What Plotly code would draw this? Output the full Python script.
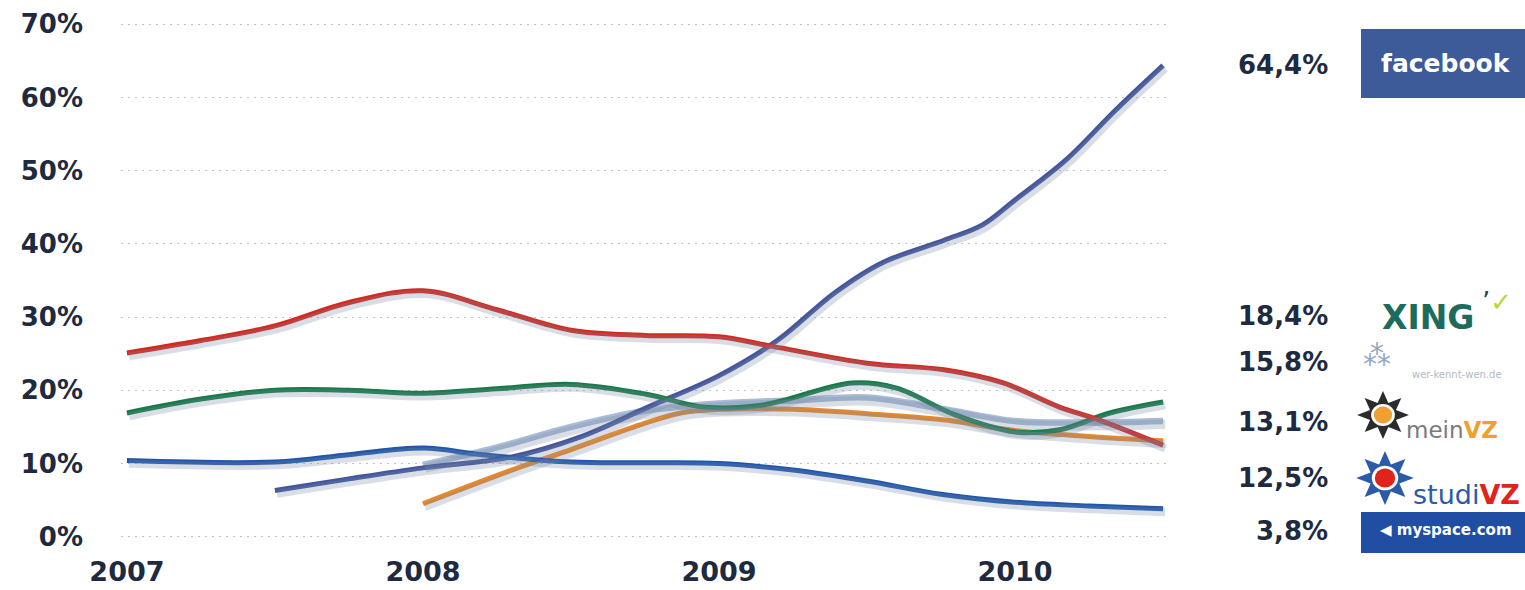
import base64
import math
import plotly.graph_objects as go

# ---------------- data ----------------
years_ticks = [2007, 2008, 2009, 2010]
tick_year_text = ["2007", "2008", "2009", "2010"]
pct_ticks = [0, 10, 20, 30, 40, 50, 60, 70]
pct_tick_text = ["0%", "10%", "20%", "30%", "40%", "50%", "60%", "70%"]

x_wkw = [2008.0, 2008.25, 2008.5, 2008.75, 2009.0, 2009.25, 2009.5, 2009.75, 2010.0, 2010.25, 2010.5]
y_wkw = [9.8, 12.2, 15.0, 17.2, 18.2, 18.6, 19.0, 17.5, 15.8, 15.6, 15.8]

x_meinvz = [2008.0, 2008.3, 2008.5, 2008.75, 2008.87, 2009.0, 2009.25, 2009.5, 2009.75, 2010.0, 2010.25, 2010.5]
y_meinvz = [4.5, 9.1, 11.9, 15.5, 16.9, 17.4, 17.4, 16.8, 16.0, 14.5, 13.7, 13.1]

x_facebook = [2007.5, 2007.75, 2008.0, 2008.3, 2008.53, 2008.76, 2009.0, 2009.2, 2009.39, 2009.55, 2009.76, 2009.89, 2010.0, 2010.17, 2010.34, 2010.5]
y_facebook = [6.3, 7.9, 9.4, 10.9, 13.6, 17.7, 22.0, 26.9, 33.3, 37.4, 40.5, 42.6, 46.0, 51.4, 58.3, 64.4]

x_myspace = [2007.0, 2007.5, 2007.75, 2008.0, 2008.2, 2008.5, 2008.75, 2009.0, 2009.25, 2009.5, 2009.75, 2010.0, 2010.25, 2010.5]
y_myspace = [10.4, 10.2, 11.2, 12.1, 11.2, 10.2, 10.1, 10.0, 9.1, 7.6, 5.8, 4.7, 4.2, 3.8]

x_xing = [2007.0, 2007.25, 2007.5, 2007.75, 2008.0, 2008.25, 2008.5, 2008.75, 2008.95, 2009.15, 2009.45, 2009.6, 2009.8, 2010.0, 2010.15, 2010.32, 2010.5]
y_xing = [16.9, 18.8, 20.0, 20.0, 19.6, 20.2, 20.8, 19.5, 17.7, 18.0, 21.0, 20.3, 16.6, 14.3, 14.6, 16.9, 18.4]

x_studivz = [2007.0, 2007.25, 2007.5, 2007.75, 2008.0, 2008.25, 2008.5, 2008.75, 2009.0, 2009.18, 2009.5, 2009.76, 2009.96, 2010.15, 2010.28, 2010.5]
y_studivz = [25.1, 26.8, 28.8, 32.0, 33.6, 31.0, 28.2, 27.5, 27.3, 26.0, 23.7, 22.8, 21.0, 17.7, 16.0, 12.5]

end_labels = ["64,4%", "18,4%", "15,8%", "13,1%", "12,5%", "3,8%"]

# ---------------- layout helpers ----------------
W, H = 1525, 590
L, R, T, B = 121, 356, 17, 46
PW, PH = W - L - R, H - T - B
X_RANGE = [2006.98, 2010.52]
Y_RANGE = [-1, 71]


def pxx(x):
    return (x - L) / PW


def pxy(y):
    return (H - B - y) / PH


series = [
    ("wer-kennt-wen", x_wkw, y_wkw, "#a9bcd4", 6.5),
    ("meinVZ", x_meinvz, y_meinvz, "#e8892b", 5),
    ("facebook", x_facebook, y_facebook, "#45569c", 5),
    ("myspace", x_myspace, y_myspace, "#2157ab", 5),
    ("XING", x_xing, y_xing, "#187a47", 5),
    ("studiVZ", x_studivz, y_studivz, "#d42a1e", 5),
]

fig = go.Figure()

# soft shadows (drawn on an offset overlay axis)
for name, xs, ys, col, w in series:
    fig.add_trace(go.Scatter(
        x=xs, y=ys, mode="lines", xaxis="x2", yaxis="y2",
        line=dict(color="rgba(120,135,165,0.28)", width=w + 3, shape="spline", smoothing=1.0),
        hoverinfo="skip", showlegend=False))

for name, xs, ys, col, w in series:
    fig.add_trace(go.Scatter(
        x=xs, y=ys, mode="lines", name=name,
        line=dict(color=col, width=w, shape="spline", smoothing=1.0),
        showlegend=False))

FONT = "DejaVu Sans"
TXT = "#1e2a3f"

fig.update_layout(
    width=W, height=H,
    margin=dict(l=L, r=R, t=T, b=B, autoexpand=False),
    paper_bgcolor="white", plot_bgcolor="white",
    showlegend=False, hovermode=False,
    xaxis=dict(range=X_RANGE, tickvals=years_ticks, ticktext=tick_year_text,
               showgrid=False, zeroline=False, showline=False, ticks="",
               tickfont=dict(family=FONT, size=27, color=TXT, weight="bold"),
               ticklabelstandoff=9),
    yaxis=dict(range=Y_RANGE, tickvals=pct_ticks, ticktext=pct_tick_text,
               showgrid=True, gridcolor="#c2c2c2", griddash="2px,5px", gridwidth=1.3,
               zeroline=False, showline=False, ticks="",
               tickfont=dict(family=FONT, size=26, color=TXT, weight="bold"),
               ticklabelstandoff=37),
    xaxis2=dict(overlaying="x", range=[X_RANGE[0] - 0.007, X_RANGE[1] - 0.007], visible=False),
    yaxis2=dict(overlaying="y", range=[Y_RANGE[0] + 0.45, Y_RANGE[1] + 0.45], visible=False),
)


def note(x, y, text, size, color=TXT, bold=False, xanchor="center"):
    fig.add_annotation(x=pxx(x), y=pxy(y), xref="paper", yref="paper", text=text,
                       showarrow=False, xanchor=xanchor, yanchor="middle",
                       font=dict(family=FONT, size=size, color=color,
                                 weight="bold" if bold else "normal"))


def rect(x0, y0, x1, y1, color):
    fig.add_shape(type="rect", xref="paper", yref="paper", layer="below",
                  x0=pxx(x0), x1=pxx(x1), y0=pxy(y1), y1=pxy(y0),
                  fillcolor=color, line=dict(width=0))


def star_logo(x0, y0, x1, y1, ray_color, core_color):
    pts = []
    for i in range(16):
        r = 48 if i % 2 == 0 else 26
        a = math.pi / 2 + i * math.pi / 8
        pts.append(f"{50 + r * math.cos(a):.1f},{50 - r * math.sin(a):.1f}")
    svg = (f"<svg xmlns='http://www.w3.org/2000/svg' viewBox='0 0 100 100'>"
           f"<polygon points='{' '.join(pts)}' fill='{ray_color}'/>"
           f"<circle cx='50' cy='50' r='22' fill='white'/>"
           f"<circle cx='50' cy='50' r='17' fill='{core_color}'/></svg>")
    src = "data:image/svg+xml;base64," + base64.b64encode(svg.encode()).decode()
    fig.add_layout_image(source=src, xref="paper", yref="paper",
                         x=pxx(x0), y=pxy(y0), sizex=(x1 - x0) / PW, sizey=(y1 - y0) / PH,
                         xanchor="left", yanchor="top", sizing="stretch", layer="above")


# end value labels
label_y = [65, 316, 362, 422, 478, 531]
for txt, yy in zip(end_labels, label_y):
    note(1330, yy, txt, 26, bold=True, xanchor="right")

# facebook logo
rect(1361, 29, 1530, 98, "#3d5a99")
note(1446, 63, "facebook", 25, color="white", bold=True)

# XING logo
note(1428, 317, "XING", 33, color="#1c6b5c", bold=True)
note(1497, 302, "<span style='color:#1c4b4b'>’</span><span style='color:#b9d433'>✓</span>", 26)

# wer-kennt-wen logo
note(1377, 355, "⁂", 28, color="#93a7bf")
note(1457, 374, "wer-kennt-wen.de", 10, color="#b0bac6")

# meinVZ logo
star_logo(1356, 390, 1410, 440, "#2b2b2b", "#f0a033")
note(1452, 430, "<span style='color:#7a7a7a'>mein</span><span style='color:#f0a033'><b>VZ</b></span>", 23)

# studiVZ logo
star_logo(1355, 450, 1415, 506, "#2a5aa8", "#e0241c")
note(1466, 494, "<span style='color:#2a5aa8'>studi</span><span style='color:#e0241c'><b>VZ</b></span>", 27)

# myspace logo
rect(1361, 512, 1530, 553, "#1f4ea3")
note(1446, 530, "◀ myspace.com", 15, color="white", bold=True)

fig.write_html("out.html", config={"displayModeBar": False},
               post_script="document.body.style.margin='0';")
